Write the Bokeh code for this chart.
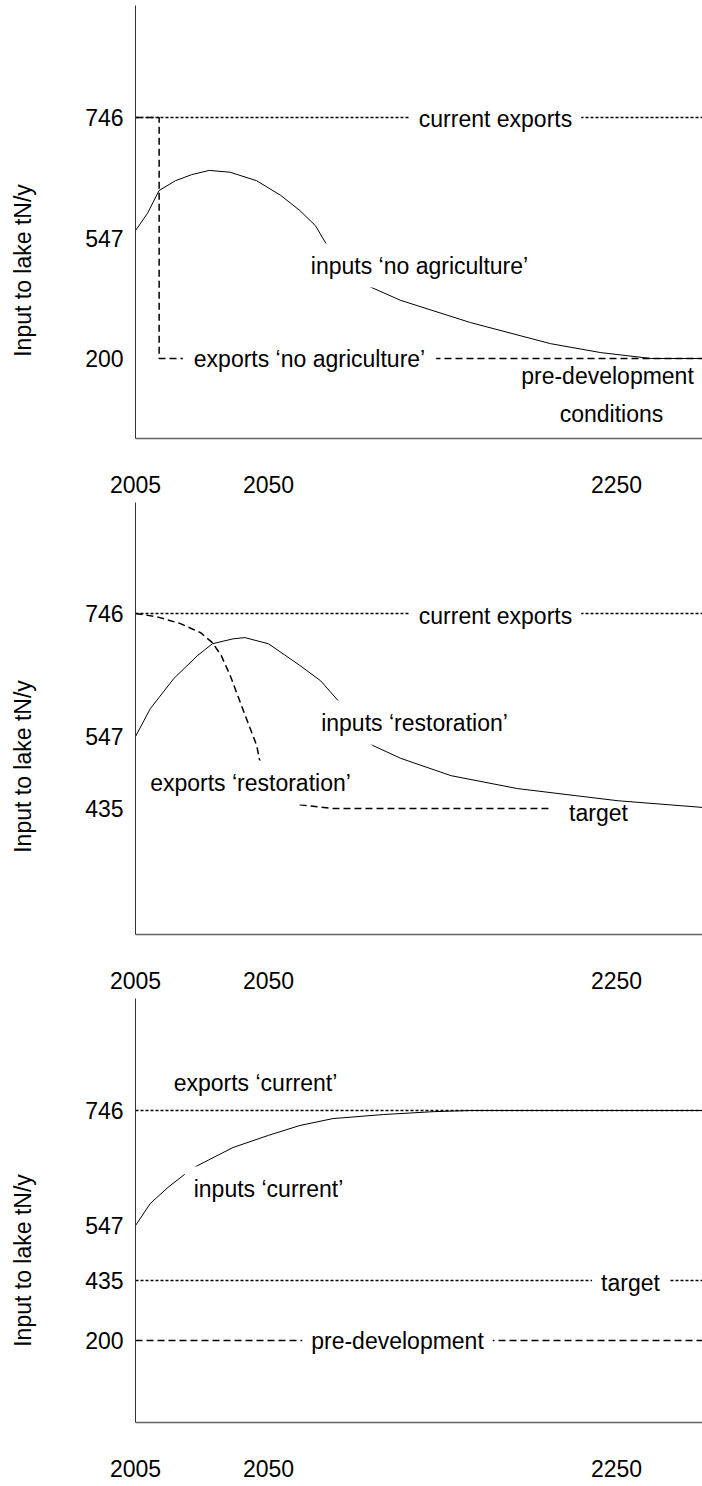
import numpy as np
from bokeh.plotting import figure
from bokeh.models import Range1d, FixedTicker, Label
from bokeh.layouts import column, row
from bokeh.core.properties import value
from bokeh.embed import file_html
from bokeh.resources import INLINE

FONT = "Liberation Sans"
FSIZE = "23px"

# ---------------- data ----------------
X_TICK_YEARS = [2005, 2050, 2250]
X_TICK_LABELS = ["2005", "2050", "2250"]
Y_TITLE = "Input to lake tN/y"

# Panel 1: 'no agriculture'
p1_y_ticks = [200, 547, 746]
p1_cur_exp_years = [2005, 2300]
p1_cur_exp_vals = [746, 746]
p1_exp_noag_years = [2005, 2013, 2013, 2300]
p1_exp_noag_vals = [746, 746, 200, 200]
p1_in_noag_years = [2005, 2009, 2013, 2018.5, 2024, 2030, 2037, 2046, 2057, 2068,
                    2077, 2083, 2094, 2104, 2126, 2166, 2212, 2241, 2270, 2300]
p1_in_noag_vals = [560, 588, 626, 642, 652, 659, 656, 642, 618, 593,
                   568, 533, 469, 417, 368, 304, 243, 217, 200, 200]

# Panel 2: 'restoration'
p2_y_ticks = [435, 547, 746]
p2_cur_exp_years = [2005, 2300]
p2_cur_exp_vals = [746, 746]
p2_exp_rest_years = [2005, 2012, 2020, 2027, 2031, 2034, 2037, 2040, 2043, 2046,
                     2047, 2051, 2057, 2068, 2087, 2212]
p2_exp_rest_vals = [746, 741, 730, 715, 699, 678, 646, 608, 570, 533,
                    510, 471, 451, 441, 435, 435]
p2_in_rest_years = [2005, 2010, 2018, 2026, 2031, 2038, 2042, 2050, 2068, 2080,
                    2090, 2098, 2107, 2110, 2126, 2155, 2193, 2251, 2298, 2300]
p2_in_rest_vals = [547, 592, 641, 678, 697, 705, 707, 697, 662, 637,
                   605, 573, 541, 533, 513, 486, 466, 447, 437, 436]

# Panel 3: 'current'
p3_y_ticks = [200, 435, 547, 746]
p3_exp_cur_years = [2005, 2300]
p3_exp_cur_vals = [746, 746]
p3_target_years = [2005, 2300]
p3_target_vals = [435, 435]
p3_predev_years = [2005, 2300]
p3_predev_vals = [200, 200]
p3_in_cur_years = [2005, 2010, 2016, 2022, 2025, 2038, 2050, 2068, 2087, 2116,
                   2145, 2166, 2300]
p3_in_cur_vals = [547, 585, 613, 637, 648, 682, 703, 720, 732, 739,
                  744, 746, 746]

# ------------- schematic (non-linear) scales -------------
X_SCALE_YEARS = [2005, 2050, 2250, 2300]
X_SCALE_POS = [0, 133, 481, 568]


def xmap(years):
    return np.interp(years, X_SCALE_YEARS, X_SCALE_POS)


P1_SCALE_POS = [80, 200, 321]
P2_SCALE_POS = [126, 198, 321]
P3_SCALE_POS = [88, 148, 203, 318]

DOT = dict(line_dash="3 2", line_width=1.5, line_color="black")
DASH = dict(line_dash="7 4", line_width=1.5, line_color="black")
SOLID = dict(line_width=1, line_color="black")

TITLE_W = 45
MAIN_W = 702 - TITLE_W


def make_panel(height, top, bottom, y_lo, y_hi, y_ticks, y_pos):
    yr = Range1d(y_lo, y_hi)
    p = figure(width=MAIN_W, height=height, x_range=Range1d(0, 567),
               y_range=yr, output_backend="svg",
               toolbar_location=None, min_border_left=135 - TITLE_W, min_border_right=0,
               min_border_top=top, min_border_bottom=bottom)
    p.outline_line_color = None
    p.grid.visible = False
    xt = [int(round(v)) for v in xmap(X_TICK_YEARS)]
    p.xaxis.ticker = FixedTicker(ticks=xt, minor_ticks=[])
    p.xaxis.major_label_overrides = {t: l for t, l in zip(xt, X_TICK_LABELS)}
    p.yaxis.ticker = FixedTicker(ticks=list(y_pos), minor_ticks=[])
    p.yaxis.major_label_overrides = {t: str(v) for t, v in zip(y_pos, y_ticks)}
    for ax in (p.xaxis, p.yaxis):
        ax.major_tick_line_color = None
        ax.minor_tick_line_color = None
        ax.major_tick_out = 0
        ax.major_tick_in = 0
        ax.major_label_text_font = FONT
        ax.major_label_text_font_size = FSIZE
        ax.major_label_text_color = "black"
    p.xaxis.axis_line_color = "#666666"
    p.xaxis.axis_line_width = 1.5
    p.yaxis.axis_line_color = "#333333"
    p.yaxis.axis_line_width = 1
    p.xaxis.major_label_standoff = 37
    p.yaxis.major_label_standoff = 12

    # side strip carrying the rotated y-axis title
    t = figure(width=TITLE_W, height=height, x_range=Range1d(0, TITLE_W), y_range=yr,
               output_backend="svg", toolbar_location=None,
               x_axis_location=None, y_axis_location=None,
               min_border_left=0, min_border_right=0,
               min_border_top=top, min_border_bottom=bottom)
    t.outline_line_color = None
    t.grid.visible = False
    t.text(x=[22], y=[168], text=[Y_TITLE], angle=np.pi / 2,
           text_align="center", text_baseline="middle",
           text_font=value(FONT), text_font_size=FSIZE, text_color="black")
    return p, t


def ymap(vals, ticks, pos):
    return np.interp(vals, ticks, pos)


def line(p, years, vals, ticks, pos, style):
    p.line(xmap(years), ymap(vals, ticks, pos), **style)


def text(p, x, y, s, bg=False, pad=9):
    lab = Label(x=x, y=y, text=s, text_align="center", text_baseline="middle",
                text_font=FONT, text_font_size=FSIZE, text_color="black")
    if bg:
        lab.background_fill_color = "white"
        lab.padding = pad
    p.add_layout(lab)


# ---- panel 1 ----
p1, t1 = make_panel(502, 5, 64, 0, 433, p1_y_ticks, P1_SCALE_POS)
line(p1, p1_cur_exp_years, p1_cur_exp_vals, p1_y_ticks, P1_SCALE_POS, DOT)
line(p1, p1_exp_noag_years, p1_exp_noag_vals, p1_y_ticks, P1_SCALE_POS, DASH)
line(p1, p1_in_noag_years, p1_in_noag_vals, p1_y_ticks, P1_SCALE_POS, SOLID)
text(p1, 360, 320, "current exports", bg=True)
text(p1, 284, 173, "inputs \u2018no agriculture\u2019", bg=True)
text(p1, 174, 80, "exports \u2018no agriculture\u2019", bg=True, pad=11)
text(p1, 472, 63, "pre-development")
text(p1, 476, 25, "conditions")

# ---- panel 2 ----
p2, t2 = make_panel(496, 0, 64, 0, 432, p2_y_ticks, P2_SCALE_POS)
line(p2, p2_cur_exp_years, p2_cur_exp_vals, p2_y_ticks, P2_SCALE_POS, DOT)
line(p2, p2_exp_rest_years, p2_exp_rest_vals, p2_y_ticks, P2_SCALE_POS, DASH)
line(p2, p2_in_rest_years, p2_in_rest_vals, p2_y_ticks, P2_SCALE_POS, SOLID)
text(p2, 360, 319, "current exports", bg=True)
text(p2, 279, 212, "inputs \u2018restoration\u2019", bg=True)
text(p2, 115, 152, "exports \u2018restoration\u2019", bg=True)
text(p2, 463, 122, "target")

# ---- panel 3 ----
p3, t3 = make_panel(488, 0, 64, 6, 430, p3_y_ticks, P3_SCALE_POS)
line(p3, p3_exp_cur_years, p3_exp_cur_vals, p3_y_ticks, P3_SCALE_POS, DOT)
line(p3, p3_target_years, p3_target_vals, p3_y_ticks, P3_SCALE_POS, DOT)
line(p3, p3_predev_years, p3_predev_vals, p3_y_ticks, P3_SCALE_POS, DASH)
line(p3, p3_in_cur_years, p3_in_cur_vals, p3_y_ticks, P3_SCALE_POS, SOLID)
text(p3, 120, 346, "exports \u2018current\u2019")
text(p3, 133, 240, "inputs \u2018current\u2019", bg=True)
text(p3, 495, 146, "target", bg=True)
text(p3, 262, 88, "pre-development", bg=True)

layout = column(row(t1, p1, spacing=0), row(t2, p2, spacing=0),
                row(t3, p3, spacing=0), spacing=0)
open("out.html", "w").write(file_html(layout, INLINE))
